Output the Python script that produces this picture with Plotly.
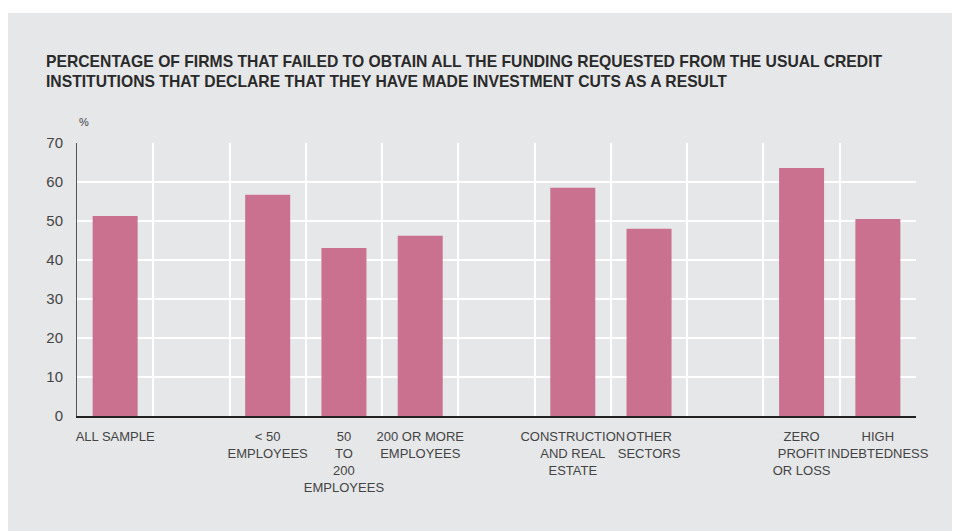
import plotly.graph_objects as go

categories = ["ALL SAMPLE", " ", "< 50<br>EMPLOYEES", "50<br>TO<br>200<br>EMPLOYEES",
              "200 OR MORE<br>EMPLOYEES", "  ", "CONSTRUCTION<br>AND REAL<br>ESTATE",
              "OTHER<br>SECTORS", "   ", "ZERO<br>PROFIT<br>OR LOSS", "HIGH<br>INDEBTEDNESS"]
values = [51.3, None, 56.7, 43.1, 46.2, None, 58.5, 48.0, None, 63.6, 50.5]
y_ticks = [0, 10, 20, 30, 40, 50, 60, 70]

OFF = 8  # page body margin
W, H = 960 - OFF, 531 - OFF
L, R, T, B = 77 - OFF, 44, 143 - OFF, 115
pw, ph = W - L - R, H - T - B
BG = "#e6e7e9"


def px_x(x):
    return (x - OFF - L) / pw


def px_y(y):
    return (H - B - (y - OFF)) / ph


fig = go.Figure(go.Bar(x=categories, y=values, marker_color="#c9718f",
                       marker_line_width=0, width=0.59))

fig.add_shape(type="rect", xref="paper", yref="paper", layer="below",
              x0=px_x(7), x1=px_x(980), y0=px_y(560), y1=px_y(13),
              fillcolor=BG, line_width=0)

fig.update_layout(
    width=W, height=H,
    margin=dict(l=L, r=R, t=T, b=B),
    paper_bgcolor="white", plot_bgcolor=BG,
    font=dict(family="Liberation Sans, Arial, sans-serif", color="#333"),
    showlegend=False, bargap=0.41,
    xaxis=dict(type="category", tickson="boundaries", showgrid=True, gridcolor="white",
               gridwidth=2, showline=True, linecolor="#222", linewidth=1.5,
               ticks="", tickfont=dict(size=13, color="#444"), tickangle=0,
               ticklabelstandoff=8, automargin=False, fixedrange=True),
    yaxis=dict(range=[0, 70], tickvals=y_ticks, showgrid=True, gridcolor="white",
               gridwidth=2, showline=True, linecolor="#555", linewidth=1,
               zeroline=False, ticks="", tickfont=dict(size=15, color="#444"),
               ticklabelstandoff=10, automargin=False, fixedrange=True),
)

fig.add_annotation(xref="paper", yref="paper", x=px_x(44), y=px_y(71),
                   xanchor="left", yanchor="middle", align="left", showarrow=False,
                   text="<b>PERCENTAGE OF FIRMS THAT FAILED TO OBTAIN ALL THE FUNDING REQUESTED FROM THE USUAL CREDIT<br>"
                        "INSTITUTIONS THAT DECLARE THAT THEY HAVE MADE INVESTMENT CUTS AS A RESULT</b>",
                   font=dict(size=15.7, color="#2a2a2a"))
fig.add_annotation(xref="paper", yref="paper", x=0, y=px_y(122),
                   xanchor="left", yanchor="middle", showarrow=False,
                   text="%", font=dict(size=11, color="#444"))

fig.write_html("out.html")
